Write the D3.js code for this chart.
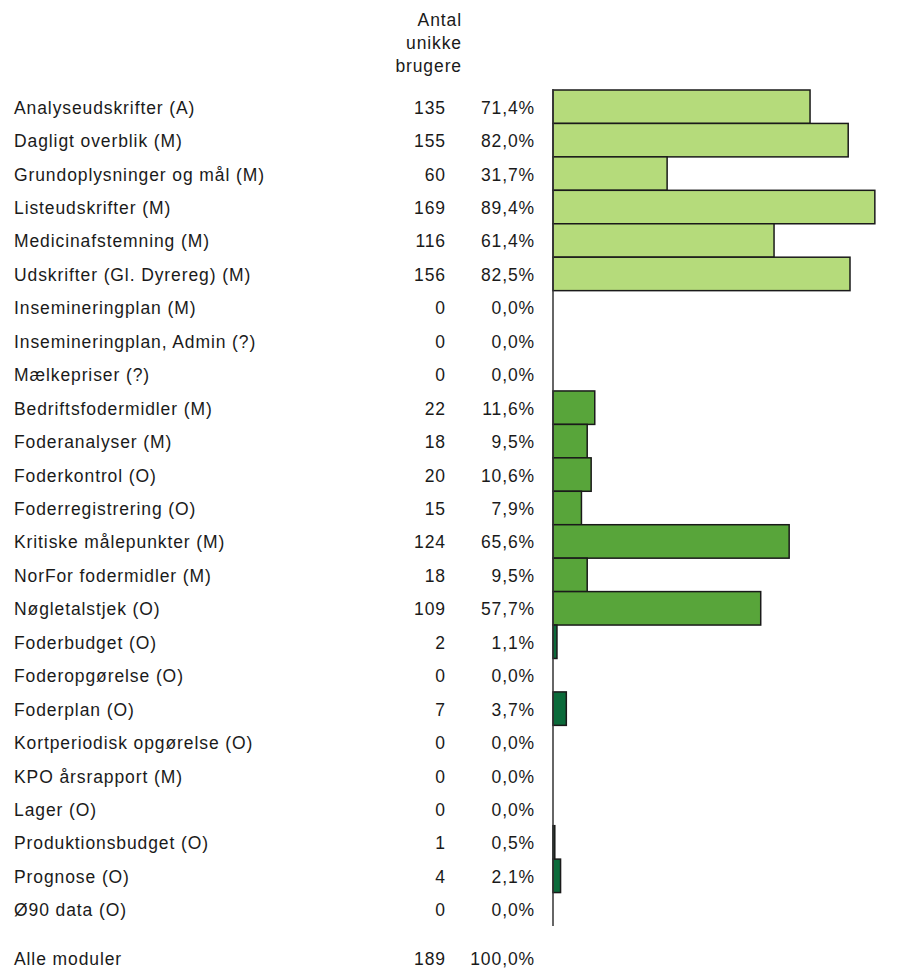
<!DOCTYPE html>
<html>
<head>
<meta charset="utf-8">
<script src="https://cdn.jsdelivr.net/npm/d3@7"></script>
<style>
  body { margin: 0; background: #fff; }
  text { font-family: "Liberation Sans", Arial, sans-serif; font-size: 17.5px; letter-spacing: 0.9px; fill: #1a1a1a; }
</style>
</head>
<body>
<svg id="chart" width="901" height="970"></svg>
<script>
// Data
var modules = ["Analyseudskrifter (A)", "Dagligt overblik (M)", "Grundoplysninger og mål (M)",
  "Listeudskrifter (M)", "Medicinafstemning (M)", "Udskrifter (Gl. Dyrereg) (M)",
  "Insemineringplan (M)", "Insemineringplan, Admin (?)", "Mælkepriser (?)",
  "Bedriftsfodermidler (M)", "Foderanalyser (M)", "Foderkontrol (O)", "Foderregistrering (O)",
  "Kritiske målepunkter (M)", "NorFor fodermidler (M)", "Nøgletalstjek (O)",
  "Foderbudget (O)", "Foderopgørelse (O)", "Foderplan (O)", "Kortperiodisk opgørelse (O)",
  "KPO årsrapport (M)", "Lager (O)", "Produktionsbudget (O)", "Prognose (O)", "Ø90 data (O)"];
var users = [135, 155, 60, 169, 116, 156, 0, 0, 0, 22, 18, 20, 15, 124, 18, 109,
  2, 0, 7, 0, 0, 0, 1, 4, 0];
var shares = [71.4, 82.0, 31.7, 89.4, 61.4, 82.5, 0, 0, 0, 11.6, 9.5, 10.6, 7.9, 65.6, 9.5, 57.7,
  1.1, 0, 3.7, 0, 0, 0, 0.5, 2.1, 0];
var groups = ["a", "a", "a", "a", "a", "a", "a", "a", "a", "b", "b", "b", "b", "b", "b", "b",
  "c", "c", "c", "c", "c", "c", "c", "c", "c"];
var headerLines = ["Antal", "unikke", "brugere"];
var totalLabel = "Alle moduler", totalUsers = 189, totalShare = 100.0;

var rows = modules.map(function(m, i) {
  return {name: m, users: users[i], share: shares[i], group: groups[i]};
});

var svg = d3.select("#chart");
var fmt = function(v) { return d3.format(".1f")(v).replace(".", ",") + "%"; };

// Scales
var yScale = d3.scaleBand().domain(modules).range([90, 926]).padding(0);
var xScale = d3.scaleLinear().domain([0, 100]).range([553, 913]);
var colorScale = d3.scaleOrdinal().domain(["a", "b", "c"])
  .range(["#b5db7b", "#58a53a", "#0b6a3a"]);

// Header
svg.append("text")
  .attr("text-anchor", "end")
  .selectAll("tspan")
  .data(headerLines)
  .enter()
  .append("tspan")
    .attr("x", 462)
    .attr("y", function(d, i) { return 26 + i * 23; })
    .text(function(d) { return d; });

// Bars
svg.selectAll("rect.bar")
  .data(rows.filter(function(d) { return d.share > 0; }))
  .enter()
  .append("rect")
    .attr("class", "bar")
    .attr("x", xScale(0))
    .attr("y", function(d) { return yScale(d.name); })
    .attr("width", function(d) { return xScale(d.share) - xScale(0); })
    .attr("height", yScale.bandwidth())
    .attr("fill", function(d) { return colorScale(d.group); })
    .attr("stroke", "#1a1a1a")
    .attr("stroke-width", 1.5);

// Axis line
svg.append("line")
  .attr("x1", xScale(0)).attr("x2", xScale(0))
  .attr("y1", 89).attr("y2", 926)
  .attr("stroke", "#333").attr("stroke-width", 1.5);

// Row labels
var rowG = svg.selectAll("g.row")
  .data(rows)
  .enter()
  .append("g")
    .attr("class", "row")
    .attr("transform", function(d) { return "translate(0," + (yScale(d.name) + yScale.bandwidth() / 2 + 7) + ")"; });

rowG.append("text").attr("x", 14).text(function(d) { return d.name; });
rowG.append("text").attr("x", 446).attr("text-anchor", "end").text(function(d) { return d.users; });
rowG.append("text").attr("x", 535).attr("text-anchor", "end").text(function(d) { return fmt(d.share); });

// Total row
var tot = svg.append("g").attr("transform", "translate(0,965)");
tot.append("text").attr("x", 14).text(totalLabel);
tot.append("text").attr("x", 446).attr("text-anchor", "end").text(totalUsers);
tot.append("text").attr("x", 535).attr("text-anchor", "end").text(fmt(totalShare));
</script>
</body>
</html>
